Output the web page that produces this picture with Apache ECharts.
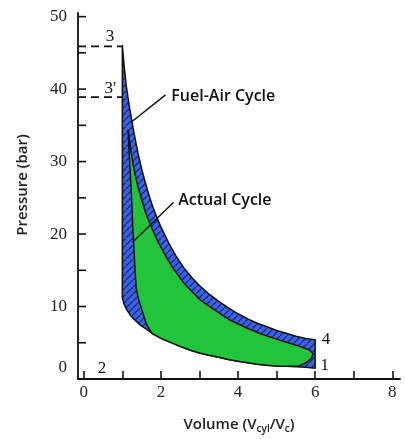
<!DOCTYPE html>
<html><head><meta charset="utf-8">
<script src="https://cdn.jsdelivr.net/npm/echarts@6/dist/echarts.min.js"></script>
<style>html,body{margin:0;padding:0;background:#fff}#c{width:405px;height:439px}</style>
</head><body><div id="c"></div>
<script>
// ---- data (V = Vcyl/Vc, P in bar) ----
const xLabelValues = [0, 2, 4, 6, 8];
const yTickValues = [5, 10, 15, 20, 25, 30, 35, 40, 45, 50];
const yLabelValues = [0, 10, 20, 30, 40, 50];
const xMin = -0.15, xMax = 8.2, yMin = 0, yMax = 50.5;
const xTickMin = 0, xTickMax = 8, xTickStep = 1;

// Fuel-air cycle outline: expansion 3->4, 4->1, compression 1->2, 2->3
const fuelAirV = [1.0, 1.05, 1.1, 1.15, 1.2, 1.3, 1.4, 1.5, 1.6, 1.7, 1.8, 1.9, 2.0, 2.2, 2.4, 2.6, 2.8, 3.0,
                  3.25, 3.5, 3.75, 4.0, 4.25, 4.5, 4.75, 5.0, 5.25, 5.5, 5.75, 6.0,
                  6.0, 5.75, 5.5, 5.25, 5.0, 4.75, 4.5, 4.25, 4.0, 3.75, 3.5, 3.25, 3.0, 2.75, 2.5, 2.25,
                  2.0, 1.77, 1.59, 1.45, 1.33, 1.22, 1.12, 1.04, 1.0];
const fuelAirP = [46, 43, 40.5, 38.7, 37, 34, 31.3, 29, 27, 25.2, 23.6, 22.2, 21, 18.8, 16.9, 15.3, 14.0, 12.9,
                  11.7, 10.7, 9.8, 9.0, 8.3, 7.7, 7.2, 6.7, 6.3, 5.9, 5.6, 5.4,
                  1.5, 1.62, 1.7, 1.75, 1.8, 1.9, 2.05, 2.23, 2.45, 2.7, 3.0, 3.28, 3.6, 4.0, 4.5, 5.05,
                  5.6, 6.3, 7.0, 7.5, 8.1, 8.7, 9.5, 10.4, 11.2];

// Actual cycle outline
const actualV = [1.15, 1.22, 1.3, 1.4, 1.5, 1.6, 1.75, 1.9, 2.1, 2.3, 2.6, 3.0, 3.4, 3.8, 4.2, 4.6, 5.0, 5.3,
                 5.6, 5.85, 5.95, 5.9, 5.75, 5.55,
                 5.25, 5.0, 4.75, 4.5, 4.25, 4.0, 3.75, 3.5, 3.25, 3.0, 2.75, 2.5, 2.25, 2.0, 1.77,
                 1.62, 1.51, 1.42, 1.36, 1.33, 1.3, 1.27, 1.24, 1.2, 1.17];
const actualP = [34.3, 31.5, 29.0, 26.6, 24.8, 23.0, 21.0, 19.2, 17.2, 15.4, 13.2, 11.0, 9.5, 8.1, 7.1, 6.2, 5.5, 5.0,
                 4.5, 4.0, 3.5, 2.8, 2.2, 1.75,
                 1.75, 1.8, 1.9, 2.05, 2.23, 2.45, 2.7, 3.0, 3.28, 3.6, 4.0, 4.5, 5.05, 5.6, 6.3,
                 7.6, 9.5, 11.0, 12.5, 15, 18, 21, 25, 29, 32];

// state point labels
const stateNames = ['3', "3'", '2', '4', '1'];
const stateV = [0.68, 0.69, 0.47, 6.28, 6.25];
const stateP = [47.2, 40.1, 1.5, 5.4, 1.9];

// dashed guide lines to V = 1
const dashP = [45.9, 38.9];
const dashEndV = 1.0;

// annotations
const annoText = ['Fuel-Air Cycle', 'Actual Cycle'];
const annoTextV = [2.27, 2.45];
const annoTextP = [39.0, 24.6];
const annoLineV = [[2.12, 1.22], [2.33, 1.27]];
const annoLineP = [[39.2, 35.4], [24.4, 18.9]];

// ---- layout ----
const gridLeft = 78, gridRight = 5, gridTop = 13, gridBottom = 60, W = 405;
const pxPerV = (W - gridLeft - gridRight) / (xMax - xMin);
// second grid carries only the x tick marks; same scale, starting at V = 0
const tickGridLeft = gridLeft + (xTickMin - xMin) * pxPerV;
const tickGridRight = gridRight + (xMax - xTickMax) * pxPerV;

function makePattern() {
  const c = document.createElement('canvas');
  c.width = 7; c.height = 7;
  const g = c.getContext('2d');
  g.fillStyle = '#3b63e8';
  g.fillRect(0, 0, 7, 7);
  g.strokeStyle = '#1b2a7a';
  g.lineWidth = 1.3;
  g.beginPath();
  g.moveTo(-1, 8); g.lineTo(8, -1);
  g.stroke();
  return c;
}
const bluePattern = makePattern();

function polySeries(vs, ps, fill, z) {
  return {
    type: 'custom', coordinateSystem: 'cartesian2d', z: z, silent: true,
    data: [[vs[0], ps[0]]],
    renderItem: function (params, api) {
      const pts = vs.map((v, i) => api.coord([v, ps[i]]));
      return { type: 'polygon', shape: { points: pts },
        style: { fill: fill, stroke: '#111', lineWidth: 1.5, lineJoin: 'round' } };
    }
  };
}

function textSeries(texts, vs, ps, font, align) {
  return {
    type: 'custom', coordinateSystem: 'cartesian2d', z: 10, silent: true,
    data: texts.map((t, i) => [vs[i], ps[i]]),
    renderItem: function (params, api) {
      const pt = api.coord([api.value(0), api.value(1)]);
      return { type: 'text', x: pt[0], y: pt[1],
        style: { text: texts[params.dataIndex], font: font, fill: '#111',
          textAlign: align, textVerticalAlign: 'middle' } };
    }
  };
}

const tickLen = 8;
const yTickSeries = {
  type: 'custom', coordinateSystem: 'cartesian2d', z: 20, silent: true, clip: false,
  data: yTickValues.map(v => [xMin, v]),
  renderItem: function (params, api) {
    const pt = api.coord([api.value(0), api.value(1)]);
    return { type: 'line', shape: { x1: pt[0], y1: pt[1], x2: pt[0] + tickLen, y2: pt[1] },
      style: { stroke: '#111', lineWidth: 1.6 } };
  }
};

const series = [
  polySeries(fuelAirV, fuelAirP, { image: bluePattern, repeat: 'repeat' }, 2),
  polySeries(actualV, actualP, '#22c43c', 3),
  yTickSeries
];
dashP.forEach(p => series.push({
  type: 'line', silent: true, symbol: 'none', z: 4,
  data: [[xMin, p], [dashEndV, p]],
  lineStyle: { color: '#111', width: 1.8, type: [8, 5] }
}));
annoLineV.forEach((vs, i) => series.push({
  type: 'line', silent: true, symbol: 'none', z: 6,
  data: vs.map((v, j) => [v, annoLineP[i][j]]),
  lineStyle: { color: '#111', width: 1.4 }
}));
series.push(textSeries(stateNames, stateV, stateP, '17px "Liberation Serif"', 'center'));
series.push(textSeries(annoText, annoTextV, annoTextP, '600 16px "Open Sans"', 'left'));

const chart = echarts.init(document.getElementById('c'), null, { renderer: 'canvas' });
chart.setOption({
  animation: false,
  backgroundColor: '#fff',
  grid: [
    { left: gridLeft, right: gridRight, top: gridTop, bottom: gridBottom },
    { left: tickGridLeft, right: tickGridRight, top: gridTop, bottom: gridBottom }
  ],
  xAxis: [{
    type: 'value', min: xMin, max: xMax, gridIndex: 0,
    name: 'Volume (V{sub|cyl}/V{sub|c})', nameLocation: 'middle', nameGap: 36,
    nameTextStyle: { fontFamily: 'Open Sans', fontSize: 15, fontWeight: 600, color: '#222',
      rich: { sub: { fontFamily: 'Open Sans', fontSize: 10, fontWeight: 600, color: '#222', padding: [9, 0, 0, 0] } } },
    axisLine: { show: true, onZero: false, lineStyle: { color: '#111', width: 1.8 } },
    axisTick: { show: false },
    axisLabel: { show: true, customValues: xLabelValues, margin: 5, fontFamily: 'Liberation Serif', fontSize: 17, color: '#222' },
    splitLine: { show: false }
  }, {
    type: 'value', min: xTickMin, max: xTickMax, interval: xTickStep, gridIndex: 1,
    axisLine: { show: false, onZero: false },
    axisTick: { show: true, inside: true, length: tickLen, lineStyle: { color: '#111', width: 1.6 } },
    axisLabel: { show: false },
    splitLine: { show: false }
  }],
  yAxis: [{
    type: 'value', min: yMin, max: yMax, gridIndex: 0,
    name: 'Pressure (bar)', nameLocation: 'middle', nameGap: 48, nameRotate: 90,
    nameTextStyle: { fontFamily: 'Open Sans', fontSize: 15, fontWeight: 600, color: '#222', padding: [0, 0, 0, 22] },
    axisLine: { show: true, onZero: false, lineStyle: { color: '#111', width: 1.8 } },
    axisTick: { show: false },
    axisLabel: { show: true, customValues: yLabelValues, margin: 11, fontFamily: 'Liberation Serif', fontSize: 17, color: '#222',
      formatter: v => v === 0 ? '{z|0}' : String(v),
      rich: { z: { fontFamily: 'Liberation Serif', fontSize: 17, color: '#222', padding: [0, 0, 22, 0] } } },
    splitLine: { show: false }
  }, {
    type: 'value', min: yMin, max: yMax, gridIndex: 1,
    axisLine: { show: false }, axisTick: { show: false }, axisLabel: { show: false }, splitLine: { show: false }
  }],
  series: series
});
</script></body></html>
